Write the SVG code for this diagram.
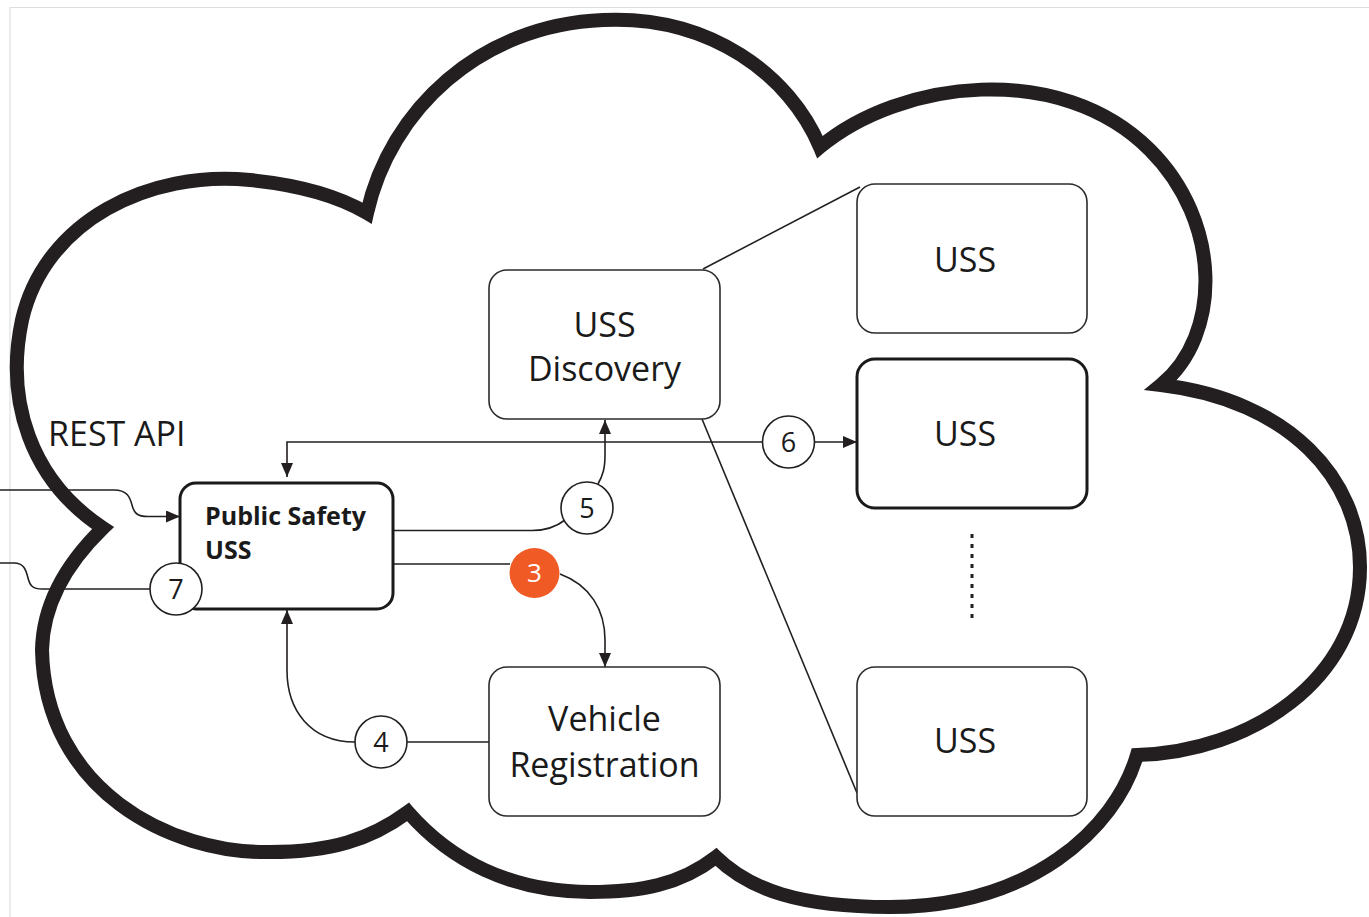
<svg xmlns="http://www.w3.org/2000/svg" width="1369" height="917" viewBox="0 0 1369 917">
<style>
  .frame{fill:none;stroke:#dedede;stroke-width:1.2}
  .cloud{fill:#fff;stroke:#231f20;stroke-width:14;stroke-linejoin:miter;stroke-miterlimit:10}
  .box{fill:#fff;stroke:#2b2b2b;stroke-width:1.6}
  .boxb{fill:#fff;stroke:#1a1a1a;stroke-width:3}
  .conn{fill:none;stroke:#231f20;stroke-width:1.6}
  .dots{fill:none;stroke:#231f20;stroke-width:3;stroke-dasharray:4 6}
  .circ{fill:#fff;stroke:#231f20;stroke-width:1.6}
  .circo{fill:#f05a24;stroke:none}
  .lbl{font-family:"Open Sans","Liberation Sans",sans-serif;font-size:34px;fill:#1a1a1a}
  .lblb{font-family:"Open Sans","Liberation Sans",sans-serif;font-size:25px;font-weight:bold;fill:#1a1a1a}
  .num{font-family:"Open Sans","Liberation Sans",sans-serif;font-size:27px;fill:#1a1a1a;text-anchor:middle}
  .numw{font-family:"Open Sans","Liberation Sans",sans-serif;font-size:26px;fill:#fff;text-anchor:middle}
  .mid{text-anchor:middle}
</style>
<defs>
  <marker id="arr" markerUnits="userSpaceOnUse" markerWidth="14" markerHeight="12" refX="14" refY="6" orient="auto">
    <path d="M0,0 L14,6 L0,12 z" fill="#231f20"/>
  </marker>
  <marker id="arrs" markerUnits="userSpaceOnUse" markerWidth="14" markerHeight="12" refX="0" refY="6" orient="auto">
    <path d="M14,0 L0,6 L14,12 z" fill="#231f20"/>
  </marker>
</defs>
<rect x="0" y="0" width="1369" height="917" fill="#fff"/>
<path class="frame" d="M10,917 V7.5 H1369"/>
<g id="cloud">
  <path class="cloud" d="M103,528 C30,480 5,400 22,320 C45,220 150,170 250,180 C300,185 340,197 367,213 C390,110 480,25 603,20 C710,15 790,75 820,147 C900,80 1060,60 1150,150 C1222,222 1222,335 1161,385 C1290,400 1360,480 1360,567 C1360,680 1250,752 1137,755 C1115,830 1030,907 890,907 C800,907 750,890 716,857 C680,885 640,892 590,892 C510,892 450,860 408,812 C370,840 330,852 270,852 C170,854 45,790 42,650 C43,600 70,560 103,528 Z"/>
</g>
<g id="connectors">
  <path class="conn" d="M0,490 L114,490 C127,490 130,497 132,505 C134,513 137,516.5 148,516.5 L180,516.5" marker-end="url(#arr)"/>
  <path class="conn" d="M0,563 L14,563 C24,563 26,570 28,578 C30,586 33,589 42,589 L152,589"/>
  <path class="conn" d="M287,477 V442 H857" marker-start="url(#arrs)" marker-end="url(#arr)"/>
  <path class="conn" d="M393,530.5 L532,530.5 C546,530.5 556,527 565,520"/>
  <path class="conn" d="M598,484 C603,475 605,468 605,455 L605,420" marker-end="url(#arr)"/>
  <path class="conn" d="M393,564 H510"/>
  <path class="conn" d="M560,574 C590,585 605,610 605,640 L605,667" marker-end="url(#arr)"/>
  <path class="conn" d="M489,742 H407"/>
  <path class="conn" d="M355,742 C310,742 287,710 287,670 L287,610" marker-end="url(#arr)"/>
  <path class="conn" d="M703,269 L860,187"/>
  <path class="conn" d="M702,419 L857,793"/>
  <path class="dots" d="M972,534 V624"/>
</g>
<g id="rest-api">
  <text class="lbl" x="48" y="446">REST API</text>
</g>
<g id="uss-discovery">
  <rect class="box" x="489" y="270" width="231" height="149" rx="18"/>
  <text class="lbl mid" x="604.5" y="337">USS</text>
  <text class="lbl mid" x="604.5" y="381">Discovery</text>
</g>
<g id="uss-1">
  <rect class="box" x="857" y="184" width="230" height="149" rx="18"/>
  <text class="lbl mid" x="965" y="272">USS</text>
</g>
<g id="uss-2">
  <rect class="boxb" x="857" y="359" width="230" height="149" rx="18"/>
  <text class="lbl mid" x="965" y="446">USS</text>
</g>
<g id="uss-3">
  <rect class="box" x="857" y="667" width="230" height="149" rx="18"/>
  <text class="lbl mid" x="965" y="753">USS</text>
</g>
<g id="vehicle-registration">
  <rect class="box" x="489" y="667" width="231" height="149" rx="18"/>
  <text class="lbl mid" x="604.5" y="731">Vehicle</text>
  <text class="lbl mid" x="604.5" y="777">Registration</text>
</g>
<g id="public-safety-uss">
  <rect class="boxb" x="180" y="483" width="213" height="126" rx="16"/>
  <text class="lblb" x="205" y="525">Public Safety</text>
  <text class="lblb" x="205" y="559">USS</text>
</g>
<g id="step-3">
  <circle class="circo" cx="534.5" cy="573" r="25"/>
  <text class="numw" x="534.5" y="582">3</text>
</g>
<g id="step-4">
  <circle class="circ" cx="381" cy="742" r="26"/>
  <text class="num" x="381" y="751.5">4</text>
</g>
<g id="step-5">
  <circle class="circ" cx="587" cy="508" r="26"/>
  <text class="num" x="587" y="517.5">5</text>
</g>
<g id="step-6">
  <circle class="circ" cx="788.5" cy="442" r="26"/>
  <text class="num" x="788.5" y="451.5">6</text>
</g>
<g id="step-7">
  <circle class="circ" cx="176" cy="589" r="26"/>
  <text class="num" x="176" y="598.5">7</text>
</g>
</svg>
